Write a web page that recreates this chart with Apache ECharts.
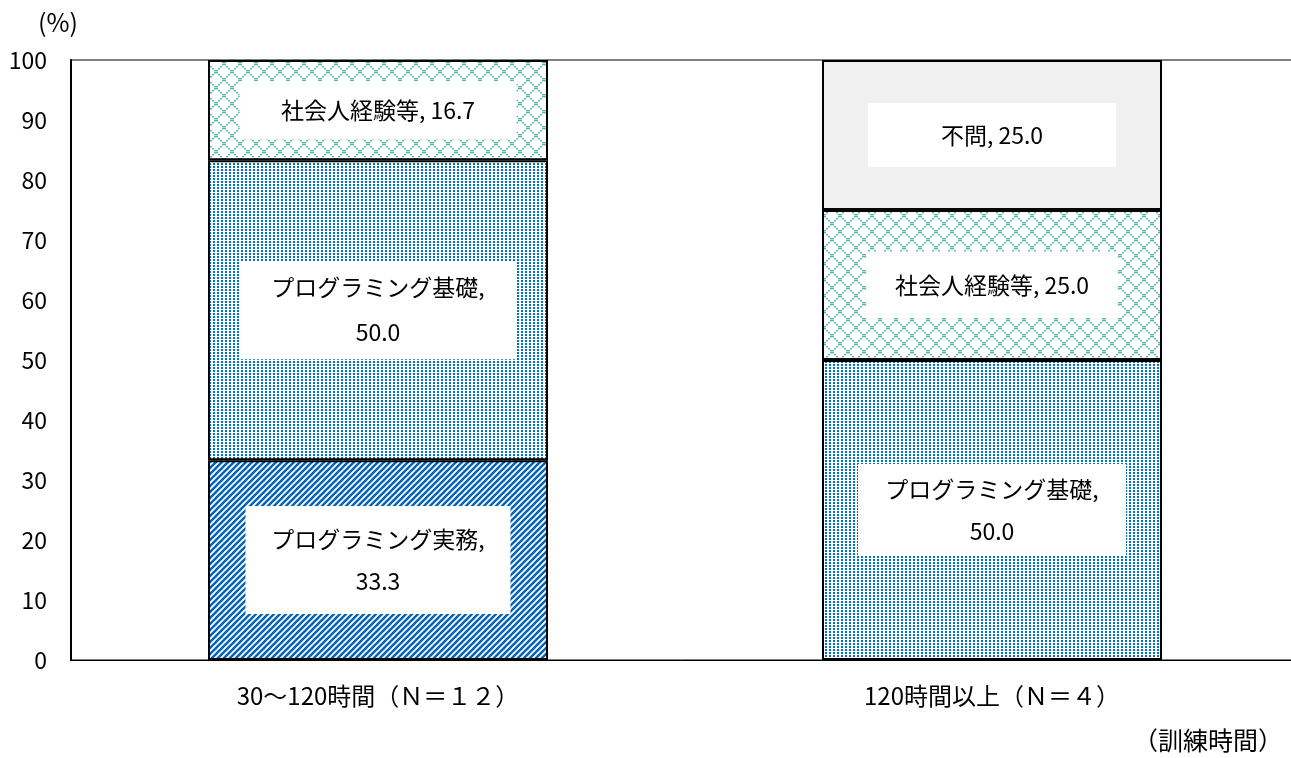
<!DOCTYPE html>
<html>
<head>
<meta charset="utf-8">
<script src="https://cdn.jsdelivr.net/npm/echarts@6/dist/echarts.min.js"></script>
<style>
  html, body { margin: 0; padding: 0; background: #fff; }
  #chart { width: 1291px; height: 758px; }
</style>
</head>
<body>
<div id="chart"></div>
<script>
// Training-hour groups and share of required prior experience (%)
const categories = ['30〜120時間（Ｎ＝１２）', '120時間以上（Ｎ＝４）'];
const seriesNames = ['プログラミング実務', 'プログラミング基礎', '社会人経験等', '不問'];
const practiceValues = [33.3, null];
const basicsValues = [50.0, 50.0];
const workExpValues = [16.7, 25.0];
const anyValues = [null, 25.0];
const yTicks = [0, 10, 20, 30, 40, 50, 60, 70, 80, 90, 100];

const FONT = '"Noto Sans CJK JP", "Noto Sans", sans-serif';
const FS = 23;

function makeTile(w, h, draw) {
  const c = document.createElement('canvas');
  c.width = w; c.height = h;
  const ctx = c.getContext('2d');
  ctx.fillStyle = '#ffffff';
  ctx.fillRect(0, 0, w, h);
  draw(ctx);
  return { image: c, repeat: 'repeat' };
}

// diagonal stripes
const stripeFill = makeTile(6, 6, ctx => {
  ctx.strokeStyle = '#0063B8';
  ctx.lineWidth = 2.4;
  for (let k = -2; k <= 2; k++) {
    ctx.beginPath();
    ctx.moveTo(k * 6 - 1, 7);
    ctx.lineTo(k * 6 + 7, -1);
    ctx.stroke();
  }
});

// small dot grid
const dotFill = makeTile(4, 3, ctx => {
  ctx.fillStyle = '#0070C4';
  ctx.fillRect(1, 1, 2, 2);
});

// diamond lattice
const latticeFill = makeTile(16, 16, ctx => {
  ctx.fillStyle = '#52B6AE';
  for (let i = 0; i < 16; i += 2) {
    ctx.fillRect(i, i, 2, 1.4);
    ctx.fillRect(15 - i - 1, i, 2, 1.4);
  }
});

const fills = [stripeFill, dotFill, latticeFill, '#F0F0F0'];
const valueSets = [practiceValues, basicsValues, workExpValues, anyValues];

// label box geometry per series / category: [width, lineHeight, vPad, wrap]
const labelBoxes = [
  [[265, 42, 12, true], null],
  [[277, 45, 4, true], [268, 42, 4, true]],
  [[277, 30, 14, false], [252, 30, 18, false]],
  [null, [248, 30, 17, false]]
];

const series = seriesNames.map((name, si) => ({
  name,
  type: 'bar',
  stack: 'total',
  barWidth: 340,
  itemStyle: { color: fills[si], borderColor: '#000', borderWidth: 2 },
  data: valueSets[si].map((v, ci) => {
    if (v === null) return { value: '-' };
    const box = labelBoxes[si][ci];
    return {
      value: v,
      label: {
        show: true,
        position: 'inside',
        formatter: p => p.seriesName + ',' + (box[3] ? '\n' : ' ') + Number(p.value).toFixed(1),
        width: box[0],
        lineHeight: box[1],
        padding: [box[2], 0, box[2], 0],
        align: 'center',
        backgroundColor: '#ffffff',
        color: '#000',
        fontSize: FS,
        fontFamily: FONT
      }
    };
  })
}));

const chart = echarts.init(document.getElementById('chart'), null, { renderer: 'canvas' });
chart.setOption({
  animation: false,
  backgroundColor: '#ffffff',
  grid: {
    left: 71, top: 60, right: -8, bottom: 98,
    outerBoundsMode: 'none', containLabel: false,
    show: true, borderColor: '#000', borderWidth: 1, backgroundColor: 'transparent'
  },
  xAxis: {
    type: 'category',
    data: categories,
    axisLine: { lineStyle: { color: '#000', width: 1 } },
    axisTick: { show: false },
    axisLabel: { color: '#000', fontSize: 24, fontFamily: FONT, margin: 24 }
  },
  yAxis: {
    type: 'value',
    min: yTicks[0],
    max: yTicks[yTicks.length - 1],
    interval: 10,
    splitLine: { show: false },
    axisLine: { show: true, lineStyle: { color: '#000', width: 2 } },
    axisTick: { show: false },
    axisLabel: { color: '#000', fontSize: FS, fontFamily: FONT, margin: 24 }
  },
  graphic: [
    { type: 'text', left: 38, top: 10, style: { text: '(%)', fontSize: 25, fontFamily: FONT, fill: '#000' } },
    { type: 'text', right: 8, top: 728, style: { text: '（訓練時間）', fontSize: 25, fontFamily: FONT, fill: '#000' } }
  ],
  series
});
</script>
</body>
</html>
